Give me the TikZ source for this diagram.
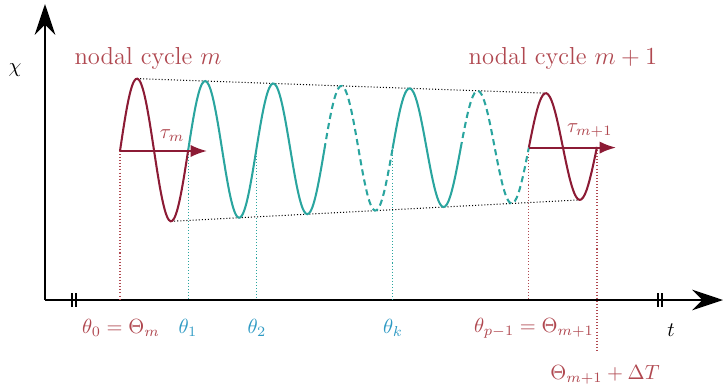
\documentclass[tikz,border=0pt]{standalone}
\usepackage{tikz}
\usetikzlibrary{arrows.meta, positioning, calc}
\definecolor{cyclered}{RGB}{140,27,53}
\definecolor{labelred}{RGB}{176,72,80}
\definecolor{wavecyan}{RGB}{42,165,159}
\definecolor{thetablue}{RGB}{46,154,196}
\tikzset{
  axis/.style={line width=1pt, -{Stealth[length=15pt, width=10pt]}},
  cyclewave/.style={line width=1pt, cyclered},
  innerwave/.style={line width=1pt, wavecyan},
  hiddenwave/.style={line width=1pt, wavecyan, dash pattern=on 3pt off 2pt},
  envelope/.style={densely dotted, line width=0.5pt},
  redmark/.style={densely dotted, labelred, line width=0.5pt},
  cyanmark/.style={densely dotted, wavecyan, line width=0.5pt},
  period/.style={line width=1pt, cyclered, -{Latex[length=8pt, width=6pt]}},
  breakmark/.style={line width=1pt},
  redlabel/.style={text=labelred},
  bluelabel/.style={text=thetablue}
}

\begin{document}
\begin{tikzpicture}[x=0.4878pt, y=-0.4878pt,
  declare function={cen(\x)=151-4*(\x-120)/477;
                     amp(\x)=73-21*(\x-120)/477;
                     wave(\x)=cen(\x)-amp(\x)*sin((\x-120)*5.28324);}]
  \useasboundingbox (0,0) rectangle (723,390);

  % axes
  \coordinate (O) at (45,300);
  \coordinate (ytop) at (45,4);
  \coordinate (xend) at (723,300);
  \draw[axis] (O) -- (ytop);
  \draw[axis] (O) -- (xend);
  \node (chi) at (15,70) {$\chi$};
  \node (tt) at (671,330) {$t$};

  % axis breaks
  \foreach \bx in {72,76,658,662}
    \draw[breakmark] (\bx,293) -- (\bx,307);

  % crossing points
  \coordinate (p0) at (120,{cen(120)});
  \coordinate (p1) at (188.14,{cen(188.14)});
  \coordinate (p2) at (256.29,{cen(256.29)});
  \coordinate (pk) at (392.57,{cen(392.57)});
  \coordinate (p5) at (528.86,{cen(528.86)});
  \coordinate (p6) at (597,{cen(597)});
  \coordinate (dT) at (597,352);

  % time marks
  \draw[redmark] (p0) -- (p0 |- O);
  \draw[cyanmark] (p1) -- (p1 |- O);
  \draw[cyanmark] (p2) -- (p2 |- O);
  \draw[cyanmark] (pk) -- (pk |- O);
  \draw[redmark] (p5) -- (p5 |- O);
  \draw[redmark] (p6) -- (dT);

  % envelope
  \coordinate (top1) at (137.03,{wave(137.03)});
  \coordinate (top2) at (545.9,{wave(545.9)});
  \coordinate (bot1) at (171.1,{wave(171.1)});
  \coordinate (bot2) at (580,{wave(580)});
  \draw[envelope] (top1) -- (top2);
  \draw[envelope] (bot1) -- (bot2);

  % oscillation
  \draw[cyclewave] plot[domain=120:188.14, samples=40, smooth] (\x,{wave(\x)});
  \draw[innerwave] plot[domain=188.14:324.43, samples=80, smooth] (\x,{wave(\x)});
  \draw[hiddenwave] plot[domain=324.43:392.57, samples=40, smooth] (\x,{wave(\x)});
  \draw[innerwave] plot[domain=392.57:460.71, samples=40, smooth] (\x,{wave(\x)});
  \draw[hiddenwave] plot[domain=460.71:528.86, samples=40, smooth] (\x,{wave(\x)});
  \draw[cyclewave] plot[domain=528.86:597, samples=40, smooth] (\x,{wave(\x)});

  % periods
  \coordinate (taum) at (207,{cen(120)});
  \coordinate (taun) at (616,{cen(528.86)});
  \draw[period] (p0) -- (taum) node[pos=0.6, above=1pt, redlabel] {$\tau_m$};
  \draw[period] (p5) -- (taun) node[pos=0.7, above=1pt, redlabel] {$\tau_{m+1}$};

  % cycle titles
  \node[redlabel, font=\large] (cyc1) at (148,58) {nodal cycle $m$};
  \node[redlabel, font=\large] (cyc2) at (563,58) {nodal cycle $m+1$};

  % time labels
  \node[redlabel] (l0) at (121,328) {$\theta_0=\Theta_m$};
  \node[bluelabel] (l1) at (188,328) {$\theta_1$};
  \node[bluelabel] (l2) at (257,328) {$\theta_2$};
  \node[bluelabel] (lk) at (393,328) {$\theta_k$};
  \node[redlabel] (lp) at (534,328) {$\theta_{p-1}=\Theta_{m+1}$};
  \node[redlabel] (ld) at (605,375) {$\Theta_{m+1}+\Delta T$};
\end{tikzpicture}
\end{document}
